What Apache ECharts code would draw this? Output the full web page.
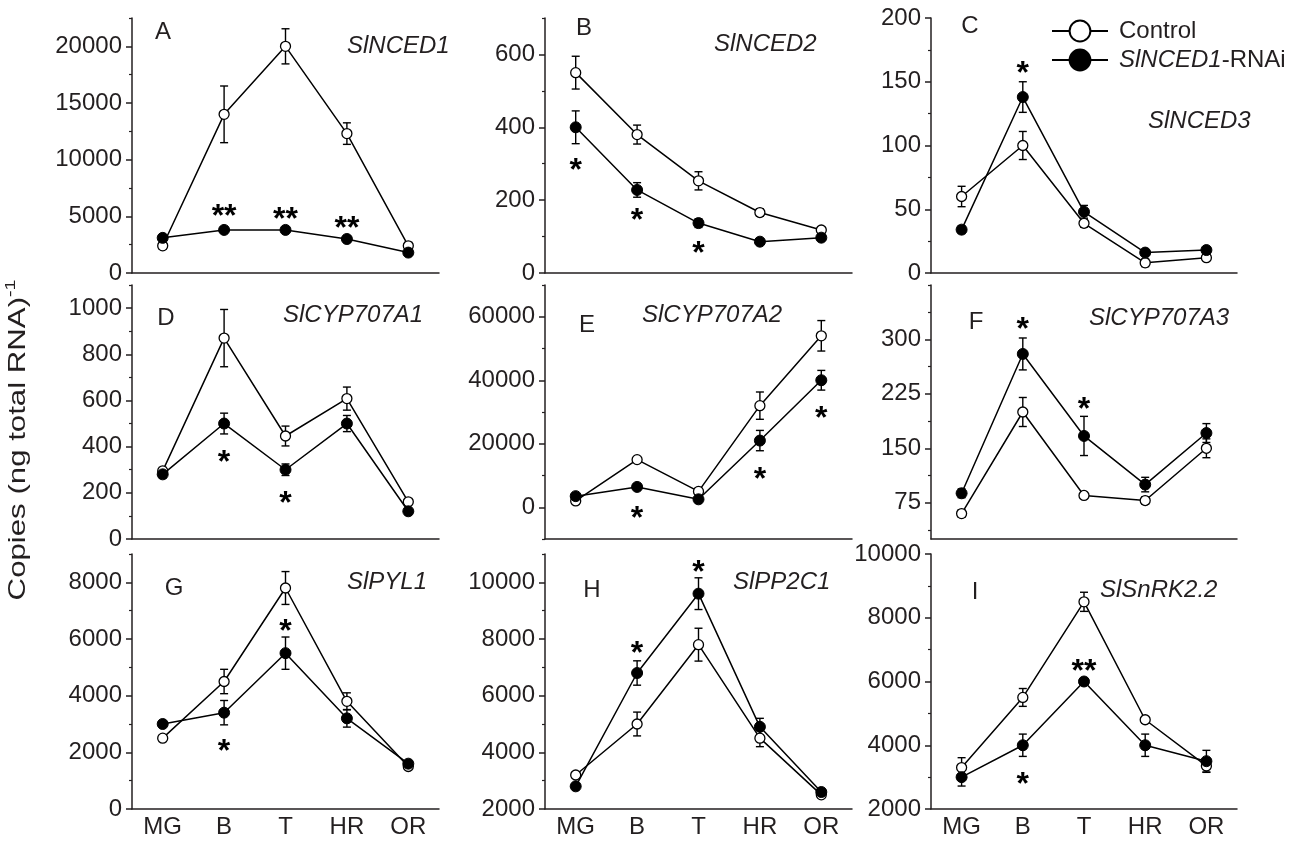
<!DOCTYPE html>
<html><head><meta charset="utf-8">
<script src="https://cdn.jsdelivr.net/npm/echarts@6/dist/echarts.min.js"></script>
<style>html,body{margin:0;padding:0;background:#fff}#c{width:1306px;height:842px}</style>
</head><body><div id="c"></div>
<script>
// ---------- data ----------
const categories = ['MG', 'B', 'T', 'HR', 'OR'];

// A  SlNCED1
const ctrlA = [2400, 14000, 20000, 12300, 2400];
const ctrlAErr = [300, 2500, 1550, 950, 300];
const rnaiA = [3100, 3800, 3800, 3000, 1800];
const rnaiAErr = [200, 200, 200, 150, 200];
const starsA = [['B', 5700, '**'], ['T', 5460, '**'], ['HR', 4670, '**']];
const ticksA = [0, 5000, 10000, 15000, 20000];

// B  SlNCED2
const ctrlB = [550, 380, 253, 166, 118];
const ctrlBErr = [45, 26, 25, 10, 8];
const rnaiB = [400, 228, 137, 86, 97];
const rnaiBErr = [45, 20, 12, 6, 8];
const starsB = [['MG', 303, '*'], ['B', 168, '*'], ['T', 77, '*']];
const ticksB = [0, 200, 400, 600];

// C  SlNCED3
const ctrlC = [60, 100, 39, 8, 12];
const ctrlCErr = [8, 11, 3, 3, 2];
const rnaiC = [34, 138, 48, 16, 18];
const rnaiCErr = [3, 12, 5, 2, 2];
const starsC = [['B', 163, '*']];
const ticksC = [0, 50, 100, 150, 200];

// D  SlCYP707A1
const ctrlD = [295, 870, 446, 608, 161];
const ctrlDErr = [15, 124, 43, 50, 12];
const rnaiD = [280, 500, 300, 500, 120];
const rnaiDErr = [15, 45, 25, 35, 8];
const starsD = [['B', 367, '*'], ['T', 190, '*']];
const ticksD = [0, 200, 400, 600, 800, 1000];

// E  SlCYP707A2
const ctrlE = [2000, 15000, 5000, 32000, 54000];
const ctrlEErr = [800, 800, 1000, 4300, 4800];
const rnaiE = [3500, 6400, 2500, 21000, 40000];
const rnaiEErr = [700, 500, 500, 3200, 3100];
const starsE = [['B', -940, '*'], ['HR', 11290, '*'], ['OR', 30720, '*']];
const ticksE = [0, 20000, 40000, 60000];

// F  SlCYP707A3
const ctrlF = [60, 200, 85, 78, 150];
const ctrlFErr = [5, 20, 4, 5, 13];
const rnaiF = [88, 280, 167, 100, 171];
const rnaiFErr = [6, 22, 27, 10, 13];
const starsF = [['B', 325, '*'], ['T', 215, '*']];
const ticksF = [75, 150, 225, 300];

// G  SlPYL1
const ctrlG = [2500, 4500, 7800, 3800, 1500];
const ctrlGErr = [100, 430, 580, 300, 80];
const rnaiG = [3000, 3400, 5500, 3200, 1600];
const rnaiGErr = [80, 430, 570, 310, 80];
const starsG = [['B', 2320, '*'], ['T', 6550, '*']];
const ticksG = [0, 2000, 4000, 6000, 8000];

// H  SlPP2C1
const ctrlH = [3200, 5000, 7800, 4500, 2500];
const ctrlHErr = [100, 420, 580, 300, 80];
const rnaiH = [2800, 6800, 9600, 4900, 2600];
const rnaiHErr = [80, 430, 560, 300, 80];
const starsH = [['B', 7790, '*'], ['T', 10645, '*']];
const ticksH = [2000, 4000, 6000, 8000, 10000];

// I  SlSnRK2.2
const ctrlI = [3300, 5500, 8500, 4800, 3350];
const ctrlIErr = [310, 280, 300, 100, 200];
const rnaiI = [3000, 4000, 6000, 4000, 3500];
const rnaiIErr = [280, 350, 100, 350, 340];
const starsI = [['B', 3016, '*'], ['T', 6585, '**']];
const ticksI = [2000, 4000, 6000, 8000, 10000];

const letters = ['A', 'B', 'C', 'D', 'E', 'F', 'G', 'H', 'I'];
const genes = ['SlNCED1', 'SlNCED2', 'SlNCED3', 'SlCYP707A1', 'SlCYP707A2', 'SlCYP707A3', 'SlPYL1', 'SlPP2C1', 'SlSnRK2.2'];
const yMins = [0, 0, 0, 0, -10000, 25, 0, 2000, 2000];
const yMaxs = [22500, 700, 200, 1100, 70000, 375, 9000, 11000, 10000];
const minorSteps = [2500, 100, 25, 100, 10000, 37.5, 1000, 1000, 1000];
const legendNames = ['Control', 'SlNCED1-RNAi'];

// ---------- layout (positions only) ----------
const colLeft = [132, 545, 931], colWidth = [307, 307, 306];
const rowTop = [18, 285, 554], rowHeight = [255, 254, 255];
const letterPos = [[163, 32], [584, 28], [970, 26], [166, 318], [587, 325], [976, 322], [174, 588], [592, 590], [975, 592]];
const genePos = [[347, 46], [714, 44], [1148, 121], [283, 315], [642, 315], [1089, 318], [347, 582], [733, 582], [1100, 590]];

const FONT = "'Liberation Sans', Arial, Helvetica, sans-serif";
const INK = '#231f20';

const ctrls = [ctrlA, ctrlB, ctrlC, ctrlD, ctrlE, ctrlF, ctrlG, ctrlH, ctrlI];
const ctrlErrs = [ctrlAErr, ctrlBErr, ctrlCErr, ctrlDErr, ctrlEErr, ctrlFErr, ctrlGErr, ctrlHErr, ctrlIErr];
const rnais = [rnaiA, rnaiB, rnaiC, rnaiD, rnaiE, rnaiF, rnaiG, rnaiH, rnaiI];
const rnaiErrs = [rnaiAErr, rnaiBErr, rnaiCErr, rnaiDErr, rnaiEErr, rnaiFErr, rnaiGErr, rnaiHErr, rnaiIErr];
const stars = [starsA, starsB, starsC, starsD, starsE, starsF, starsG, starsH, starsI];
const ticks = [ticksA, ticksB, ticksC, ticksD, ticksE, ticksF, ticksG, ticksH, ticksI];

function minorTicks(i) {
  const out = [];
  const st = minorSteps[i];
  for (let v = Math.ceil(yMins[i] / st) * st; v <= yMaxs[i] + 1e-9; v += st) {
    if (ticks[i].indexOf(v) < 0) out.push(v);
  }
  return out;
}

const grids = [], xAxes = [], yAxes = [], series = [], graphics = [];
for (let i = 0; i < 9; i++) {
  const r = Math.floor(i / 3), c = i % 3;
  grids.push({left: colLeft[c], top: rowTop[r], width: colWidth[c], height: rowHeight[r], outerBoundsMode: 'none'});
  xAxes.push({
    type: 'category', gridIndex: i, data: categories, boundaryGap: true, position: 'bottom',
    axisLine: {onZero: false, lineStyle: {color: INK, width: 1.5}},
    axisTick: {alignWithLabel: true, length: 6, interval: 0, lineStyle: {color: INK, width: 1.5}},
    axisLabel: {show: r === 2, interval: 0, fontSize: 24, fontFamily: FONT, color: INK, margin: 6},
    splitLine: {show: false}
  });
  yAxes.push({
    type: 'value', gridIndex: i, position: 'left', min: yMins[i], max: yMaxs[i],
    axisLine: {show: true, onZero: false, lineStyle: {color: INK, width: 1.5}},
    axisTick: {show: true, length: 6, customValues: ticks[i], lineStyle: {color: INK, width: 1.5}},
    axisLabel: {customValues: ticks[i], fontSize: 24, fontFamily: FONT, color: INK, margin: 10, formatter: v => String(v)},
    splitLine: {show: false}
  });
  yAxes.push({
    type: 'value', gridIndex: i, position: 'left', min: yMins[i], max: yMaxs[i],
    axisLine: {show: false, onZero: false},
    axisTick: {show: true, length: 3, customValues: minorTicks(i), lineStyle: {color: INK, width: 1.2}},
    axisLabel: {show: false},
    splitLine: {show: false}
  });
  const yi = i * 2;
  const errSeries = (vals, errs) => ({
    type: 'custom', xAxisIndex: i, yAxisIndex: yi, z: 1, silent: true,
    data: vals.map((v, k) => [k, v - errs[k], v + errs[k]]),
    encode: {x: 0, y: [1, 2]},
    renderItem: (params, api) => {
      const lo = api.coord([api.value(0), api.value(1)]);
      const hi = api.coord([api.value(0), api.value(2)]);
      const w = 4, st = {stroke: '#000', lineWidth: 1.4};
      return {type: 'group', children: [
        {type: 'line', shape: {x1: hi[0], y1: hi[1], x2: lo[0], y2: lo[1]}, style: st},
        {type: 'line', shape: {x1: hi[0] - w, y1: hi[1], x2: hi[0] + w, y2: hi[1]}, style: st},
        {type: 'line', shape: {x1: lo[0] - w, y1: lo[1], x2: lo[0] + w, y2: lo[1]}, style: st}
      ]};
    }
  });
  series.push(errSeries(ctrls[i], ctrlErrs[i]));
  series.push(errSeries(rnais[i], rnaiErrs[i]));
  series.push({
    name: legendNames[0], type: 'line', xAxisIndex: i, yAxisIndex: yi, z: 2, data: ctrls[i],
    symbol: 'circle', symbolSize: 10, lineStyle: {color: '#000', width: 1.5},
    itemStyle: {color: '#fff', borderColor: '#000', borderWidth: 1.3}, silent: true
  });
  series.push({
    name: legendNames[1], type: 'line', xAxisIndex: i, yAxisIndex: yi, z: 3, data: rnais[i],
    symbol: 'circle', symbolSize: 11, lineStyle: {color: '#000', width: 1.5},
    itemStyle: {color: '#000', borderColor: '#000', borderWidth: 1}, silent: true
  });
  series.push({
    type: 'scatter', xAxisIndex: i, yAxisIndex: yi, z: 4, silent: true,
    data: stars[i].map(s => ({value: [s[0], s[1]], label: {formatter: s[2]}})),
    symbol: 'circle', symbolSize: 1, itemStyle: {color: 'rgba(0,0,0,0)'},
    label: {show: true, position: 'inside', offset: [0, 9], fontSize: 32, fontWeight: 'bold', fontFamily: FONT, color: '#000', opacity: 1}
  });
  graphics.push({type: 'text', x: letterPos[i][0], y: letterPos[i][1], silent: true,
    style: {text: letters[i], fontSize: 24, fontFamily: FONT, fill: INK, align: 'center', verticalAlign: 'middle'}});
  graphics.push({type: 'text', x: genePos[i][0], y: genePos[i][1], silent: true,
    style: {text: genes[i], fontSize: 24, fontStyle: 'italic', fontFamily: FONT, fill: INK, align: 'left', verticalAlign: 'middle'}});
}
graphics.push({
  type: 'text', x: 18, y: 440, rotation: Math.PI / 2, scaleX: 1.3, silent: true,
  style: {text: '{a|Copies (ng total RNA)}{b|-1}', align: 'center', verticalAlign: 'middle',
    rich: {a: {fontSize: 24, fontFamily: FONT, fill: INK, lineHeight: 30},
           b: {fontSize: 15, fontFamily: FONT, fill: INK, verticalAlign: 'top', lineHeight: 30}}}
});

const chart = echarts.init(document.getElementById('c'), null, {renderer: 'canvas'});
chart.setOption({
  animation: false,
  backgroundColor: '#fff',
  grid: grids, xAxis: xAxes, yAxis: yAxes, series: series, graphic: graphics,
  legend: {
    orient: 'vertical', left: 1046, top: 14, itemWidth: 56, itemHeight: 26, itemGap: 5,
    selectedMode: false, data: legendNames,
    formatter: n => n === 'Control' ? 'Control' : '{i|SlNCED1}-RNAi',
    textStyle: {fontSize: 24, fontFamily: FONT, color: INK, padding: [0, 0, 0, 6],
      rich: {i: {fontSize: 24, fontFamily: FONT, fontStyle: 'italic', color: INK}}}
  }
});
</script></body></html>
